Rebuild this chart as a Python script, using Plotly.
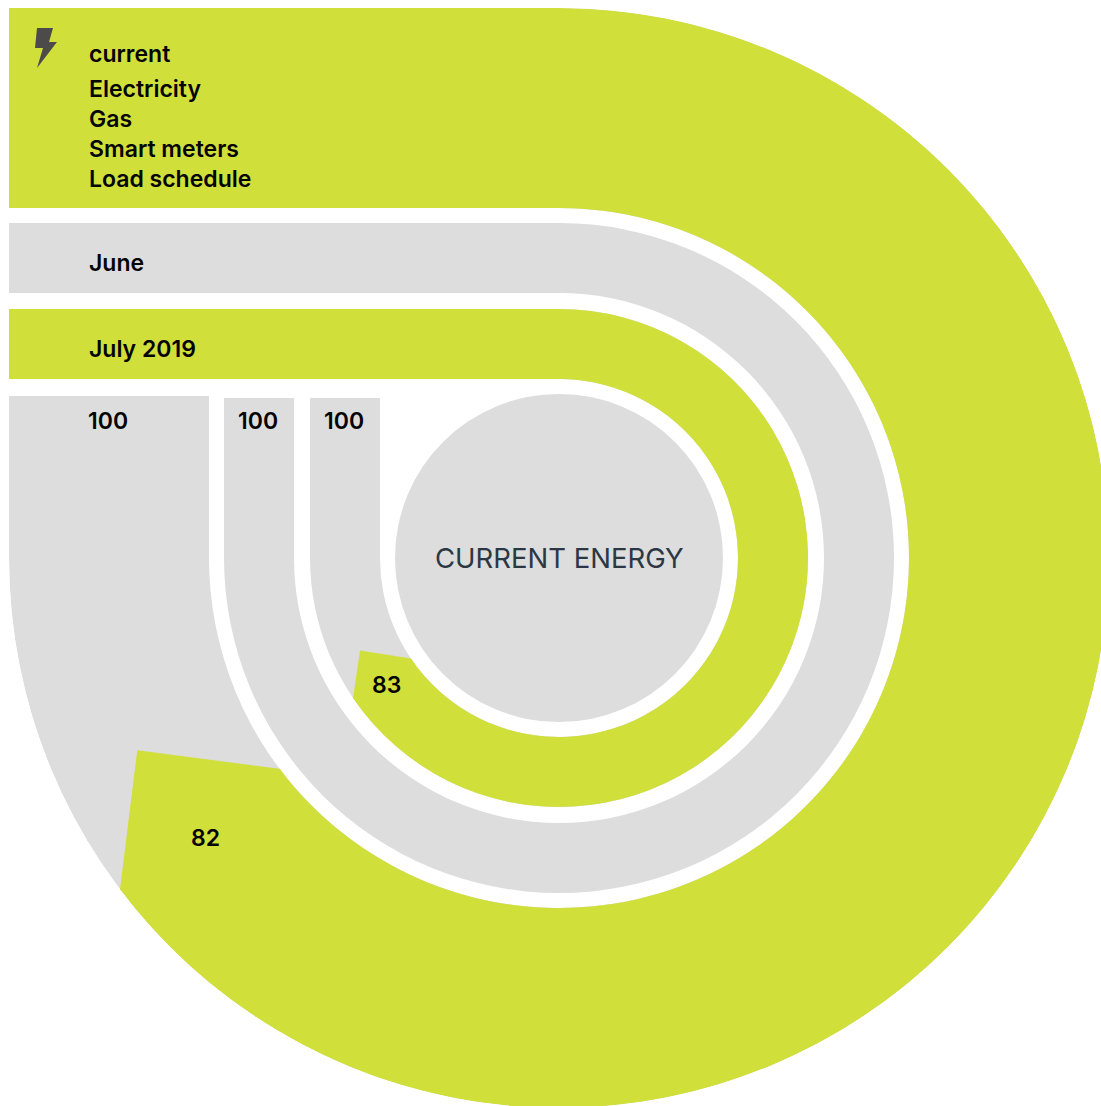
import math
import plotly.graph_objects as go

# ---- data ----
row_labels = ["current", "June", "July 2019"]
menu_labels = ["Electricity", "Gas", "Smart meters", "Load schedule"]
track_values = [100, 100, 100]
row_values = [82, None, 83]
center_label = "CURRENT ENERGY"

# ---- style / geometry ----
GREEN = "#d1df3a"
GRAY = "#dddddd"
INK = "#050505"
W, H = 1102, 1100
OFF_X, OFF_Y = 8, 8          # page body margin
CX, CY = 551, 550
inner_r = [350, 265, 179]
outer_r = [550, 335, 249]
row_band = [(8, 208), (223, 293), (309, 379)]   # screenshot y
col_top = [396, 398, 398]                       # screenshot y
row_fill = [GREEN, GRAY, GREEN]
DEG_PER_UNIT = 2.841
ARC_DEG = 270
CORE_R = 164
FONT = "Inter"


def px(x):
    return x - OFF_X


def py(y):
    return y - OFF_Y


fig = go.Figure()

# straight row bands left of 12 o'clock
for (y0, y1), r_fill in zip(row_band, row_fill):
    fig.add_trace(go.Bar(orientation="h", y=[py((y0 + y1) / 2)], x=[CX - px(9)], base=[px(9)],
                         width=[y1 - y0], marker=dict(color=r_fill, line=dict(width=0)),
                         hoverinfo="skip", showlegend=False))

# straight columns above 9 o'clock
for i, t in enumerate(track_values):
    x0, x1 = CX - outer_r[i], CX - inner_r[i]
    fig.add_trace(go.Bar(x=[(x0 + x1) / 2], y=[CY - py(col_top[i])], base=[py(col_top[i])],
                         width=[x1 - x0], marker=dict(color=GRAY, line=dict(width=0)),
                         hoverinfo="skip", showlegend=False))

# ring tracks
for i in range(3):
    fig.add_trace(go.Barpolar(r=[outer_r[i] - inner_r[i]], base=[inner_r[i]], theta=[ARC_DEG / 2],
                              width=[ARC_DEG], marker=dict(color=GRAY, line=dict(width=0)),
                              hoverinfo="skip", showlegend=False))

# value arcs and square tips
for i, v in enumerate(row_values):
    if v is None:
        continue
    end = v * DEG_PER_UNIT
    fig.add_trace(go.Barpolar(r=[outer_r[i] - inner_r[i]], base=[inner_r[i]], theta=[end / 2],
                              width=[end], marker=dict(color=GREEN, line=dict(width=0)),
                              hoverinfo="skip", showlegend=False))
    mid = (outer_r[i] + inner_r[i]) / 2
    half = (outer_r[i] - inner_r[i]) / 2
    tip_r = math.hypot(mid, half) + 2.5
    tip_t = end + math.degrees(math.atan2(half, mid))
    seam = end - 0.5
    fig.add_trace(go.Scatterpolar(r=[outer_r[i], outer_r[i], tip_r, inner_r[i], inner_r[i], outer_r[i]],
                                  theta=[seam, end, tip_t, end, seam, seam], mode="lines", fill="toself",
                                  fillcolor=GREEN, line=dict(width=0, color=GREEN),
                                  hoverinfo="skip", showlegend=False))

# centre disc
fig.add_trace(go.Barpolar(r=[CORE_R], base=[0], theta=[180], width=[360],
                          marker=dict(color=GRAY, line=dict(width=0)),
                          hoverinfo="skip", showlegend=False))


def label(text, x, y, anchor="left", size=23, color=INK, weight=600):
    fig.add_annotation(text=text, x=px(x), y=py(y), xref="x", yref="y", xanchor=anchor, yanchor="middle",
                       showarrow=False, font=dict(family=FONT, size=size, color=color, weight=weight))


label(row_labels[0], 87, 54)
for name, y in zip(menu_labels, [89, 119, 149, 179]):
    label(name, 87, y)
label(row_labels[1], 87, 263)
label(row_labels[2], 87, 349)
for t, x in zip(track_values, [108, 258, 344]):
    label(str(t), x, 421, anchor="center")
label(str(row_values[0]), 205, 838, anchor="center")
label(str(row_values[2]), 386, 685, anchor="center")
label(center_label, 559, 558, anchor="center", size=27.5, color="#2c3744", weight=400)

bolt = [(37, 28), (53, 28), (49, 42), (57, 42), (37, 68), (43, 48), (35, 48)]
path = "M " + " L ".join(f"{px(a)} {py(b)}" for a, b in bolt) + " Z"

fig.update_layout(
    width=W, height=H, margin=dict(l=0, r=0, t=0, b=0), autosize=False,
    paper_bgcolor="white", plot_bgcolor="white", barmode="overlay", showlegend=False,
    xaxis=dict(range=[0, W], visible=False, domain=[0, 1], fixedrange=True),
    yaxis=dict(range=[H, 0], visible=False, domain=[0, 1], fixedrange=True),
    polar=dict(domain=dict(x=[0, 1], y=[0, 1]), bgcolor="rgba(0,0,0,0)",
               radialaxis=dict(range=[0, 550], visible=False),
               angularaxis=dict(rotation=90, direction="clockwise", visible=False)),
    shapes=[dict(type="path", path=path, xref="x", yref="y", fillcolor="#4d4a4a", line=dict(width=0))],
)

unclip = """
document.documentElement.style.overflow = 'visible';
document.body.style.overflow = 'visible';
document.body.style.width = '1110px';
"""

fig.write_html("out.html", config={"displayModeBar": False},
               default_width=f"{W}px", default_height=f"{H}px", post_script=unclip)
